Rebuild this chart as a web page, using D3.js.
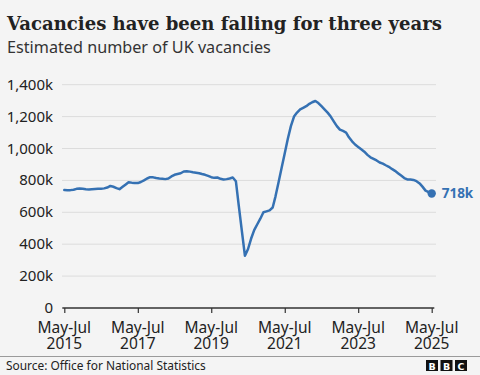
<!DOCTYPE html>
<html><head><meta charset="utf-8">
<script src="https://cdn.jsdelivr.net/npm/d3@7"></script>
<style>
html,body{margin:0;padding:0;background:#f4f4f4;}
svg{display:block;}
</style></head>
<body>
<svg id="c" width="480" height="375"></svg>
<script>
// Data: monthly rolling-quarter values (thousands), May-Jul 2015 .. May-Jul 2025
const startYear = 2015, startMonth = 5;
const v2015 = [740, 739, 739, 741, 747, 749, 747];
const v2016 = [744, 743, 745, 746, 747, 748, 750, 755, 765, 760, 752, 745];
const v2017 = [760, 775, 789, 786, 784, 783, 790, 800, 812, 820, 819, 815];
const v2018 = [812, 810, 808, 812, 825, 835, 840, 845, 856, 858, 855, 851];
const v2019 = [848, 845, 840, 835, 828, 820, 816, 818, 810, 806, 808, 812];
const v2020 = [818, 795, 640, 480, 327, 370, 434, 488, 525, 560, 600, 606];
const v2021 = [612, 630, 700, 790, 880, 970, 1060, 1140, 1200, 1225, 1245, 1255];
const v2022 = [1265, 1280, 1290, 1298, 1285, 1265, 1245, 1225, 1200, 1170, 1140, 1118];
const v2023 = [1110, 1100, 1070, 1045, 1025, 1010, 995, 980, 960, 945, 935, 925];
const v2024 = [912, 905, 895, 885, 872, 860, 845, 830, 815, 806, 806, 803];
const v2025 = [795, 781, 761, 736, 727, 718];
const values = [].concat(v2015, v2016, v2017, v2018, v2019, v2020, v2021, v2022, v2023, v2024, v2025);

const yTicks = [0, 200, 400, 600, 800, 1000, 1200, 1400];
const xTickYears = [2015, 2017, 2019, 2021, 2023, 2025];
const xTickTop = "May-Jul";
const endLabel = "718k";

const title = "Vacancies have been falling for three years";
const subtitle = "Estimated number of UK vacancies";
const source = "Source: Office for National Statistics";

const data = values.map((v, i) => ({date: new Date(startYear, startMonth + i, 15), value: v}));

const svg = d3.select("#c");
const blue = "#3571b3";
const sans = "'Noto Sans', 'Open Sans', sans-serif";

const x = d3.scaleTime()
  .domain([new Date(2015, 5, 15), new Date(2025, 5, 15)])
  .range([64.3, 431.7]);
const y = d3.scaleLinear().domain([0, 1400]).range([308, 84.7]);

function fit(sel, base, width) {
  const l = sel.node().getComputedTextLength();
  sel.attr("font-size", base * width / l);
}

// Title
const t = svg.append("text").attr("x", 7).attr("y", 30)
  .attr("font-family", "'DejaVu Serif', 'Liberation Serif', serif")
  .attr("font-weight", "bold").attr("font-size", 20).attr("fill", "#222")
  .text(title);
fit(t, 20, 435);

const st = svg.append("text").attr("x", 7).attr("y", 53)
  .attr("font-family", sans).attr("font-size", 16).attr("fill", "#333")
  .text(subtitle);
fit(st, 16, 264);

// Gridlines
svg.append("g").selectAll("line").data(yTicks.filter(d => d > 0)).join("line")
  .attr("x1", 62).attr("x2", 436)
  .attr("y1", d => y(d)).attr("y2", d => y(d))
  .attr("stroke", "#dcdcdc").attr("stroke-width", 1);

// Y labels
svg.append("g").selectAll("text").data(yTicks).join("text")
  .attr("x", 53).attr("y", d => y(d) + 5)
  .attr("text-anchor", "end")
  .attr("font-family", sans).attr("font-size", 15).attr("fill", "#222")
  .text(d => d === 0 ? "0" : d3.format(",")(d) + "k");

// X axis
const xAxis = d3.axisBottom(x)
  .tickValues(xTickYears.map(yr => new Date(yr, 5, 15)))
  .tickSize(5).tickFormat("");
const gx = svg.append("g").attr("transform", "translate(0,308)").call(xAxis);
gx.select(".domain").attr("d", "M62.3,0H434.3").attr("stroke", "#333").attr("stroke-width", 1.5);
gx.selectAll(".tick line").attr("stroke", "#333").attr("stroke-width", 1.2);

const xg = svg.append("g").attr("font-family", sans).attr("font-size", 15.5).attr("fill", "#222").attr("text-anchor", "middle");
xg.selectAll("text.top").data(xTickYears).join("text").attr("class", "top")
  .attr("x", d => x(new Date(d, 5, 15))).attr("y", 333).text(xTickTop);
xg.selectAll("text.yr").data(xTickYears).join("text").attr("class", "yr")
  .attr("x", d => x(new Date(d, 5, 15))).attr("y", 349).text(d => d);

// Line
svg.append("path").datum(data)
  .attr("fill", "none").attr("stroke", blue).attr("stroke-width", 2.5)
  .attr("stroke-linejoin", "round").attr("stroke-linecap", "round")
  .attr("d", d3.line().x(d => x(d.date)).y(d => y(d.value)));

const last = data[data.length - 1];
svg.append("circle").attr("cx", x(last.date)).attr("cy", y(last.value)).attr("r", 4.2).attr("fill", blue);
svg.append("text").attr("x", x(last.date) + 10).attr("y", y(last.value) + 5)
  .attr("font-family", sans).attr("font-weight", "bold").attr("font-size", 13.5).attr("fill", blue)
  .text(endLabel);

// Footer
svg.append("line").attr("x1", 0).attr("x2", 480).attr("y1", 356.5).attr("y2", 356.5)
  .attr("stroke", "#9a9a9a").attr("stroke-width", 1);
const src = svg.append("text").attr("x", 6).attr("y", 370)
  .attr("font-family", sans).attr("font-size", 12.5).attr("fill", "#222")
  .text(source);
fit(src, 12.5, 200);

const bbc = ["B", "B", "C"];
const lg = svg.append("g");
lg.selectAll("rect").data(bbc).join("rect")
  .attr("x", (d, i) => 426 + i * 14.5).attr("y", 360).attr("width", 12).attr("height", 11).attr("fill", "#111");
lg.selectAll("text").data(bbc).join("text")
  .attr("x", (d, i) => 432 + i * 14.5).attr("y", 369.5)
  .attr("text-anchor", "middle")
  .attr("font-family", "'DejaVu Sans', sans-serif").attr("font-weight", "bold").attr("font-size", 9.5).attr("fill", "#fff")
  .text(d => d);
</script>
</body></html>
